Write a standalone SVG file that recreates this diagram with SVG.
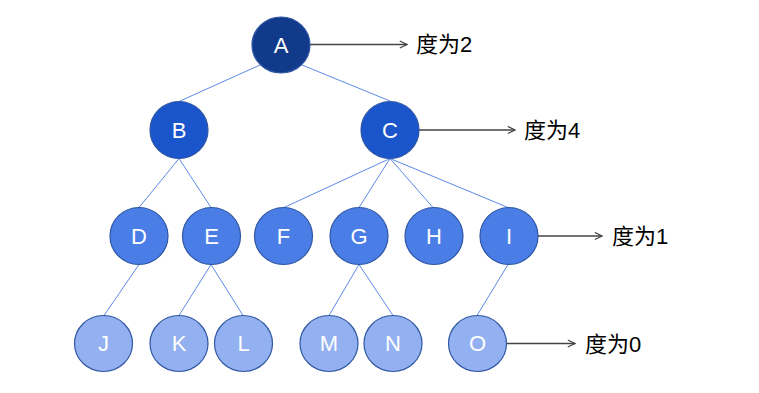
<svg xmlns="http://www.w3.org/2000/svg" width="759" height="393" viewBox="0 0 759 393">
<style>
.n ellipse{stroke:#2f56a3;stroke-width:1.2}
.n text{fill:#fff;font-family:"Liberation Sans",Arial,sans-serif;font-size:22px;text-anchor:middle;dominant-baseline:central}
.l1{fill:#123a8a}.l2{fill:#1b55cc}.l3{fill:#4a7de6}.l4{fill:#93b1f1}
.e line{stroke:#5b8ae8;stroke-width:1}
.a line{stroke:#444;stroke-width:1.3;marker-end:url(#ar)}
.lab{font-family:"Liberation Sans","Noto Sans CJK SC",sans-serif;font-size:22px;fill:#000}
</style>
<defs>
<marker id="ar" viewBox="0 0 10 10" refX="9" refY="5" markerWidth="9" markerHeight="9" markerUnits="userSpaceOnUse" orient="auto">
<path d="M1,1 L9,5 L1,9" fill="none" stroke="#444" stroke-width="1.3"/>
</marker>
</defs>
<rect width="759" height="393" fill="#fff"/>
<g id="connectors" class="e">
<line x1="260.5" y1="64.8" x2="180" y2="101"/>
<line x1="301.5" y1="64.8" x2="390" y2="101"/>
<line x1="179" y1="158.5" x2="139" y2="207.5"/>
<line x1="179" y1="158.5" x2="211" y2="207.5"/>
<line x1="390" y1="158.5" x2="284" y2="207.5"/>
<line x1="390" y1="158.5" x2="359" y2="207.5"/>
<line x1="390" y1="158.5" x2="433" y2="207.5"/>
<line x1="390" y1="158.5" x2="508" y2="207.5"/>
<line x1="139" y1="264.5" x2="104" y2="315.5"/>
<line x1="211" y1="264.5" x2="179" y2="315.5"/>
<line x1="211" y1="264.5" x2="243" y2="315.5"/>
<line x1="359" y1="264.5" x2="329" y2="315.5"/>
<line x1="359" y1="264.5" x2="393" y2="315.5"/>
<line x1="508" y1="264.5" x2="477" y2="315.5"/>
</g>
<g id="arrows" class="a">
<line x1="310" y1="44.5" x2="407" y2="44.5"/>
<line x1="419" y1="130" x2="515" y2="130"/>
<line x1="537.5" y1="236" x2="602" y2="236"/>
<line x1="506.5" y1="343.5" x2="575" y2="343.5"/>
</g>
<g id="A" class="n"><ellipse class="l1" cx="281" cy="45" rx="29" ry="28"/><text x="281" y="45">A</text></g>
<g id="B" class="n"><ellipse class="l2" cx="179" cy="130" rx="29" ry="28.5"/><text x="179" y="130">B</text></g>
<g id="C" class="n"><ellipse class="l2" cx="390" cy="130" rx="29" ry="28.5"/><text x="390" y="130">C</text></g>
<g id="D" class="n"><ellipse class="l3" cx="139" cy="236" rx="29" ry="28.5"/><text x="139" y="236">D</text></g>
<g id="E" class="n"><ellipse class="l3" cx="211.5" cy="236" rx="29" ry="28.5"/><text x="211.5" y="236">E</text></g>
<g id="F" class="n"><ellipse class="l3" cx="283.5" cy="236" rx="29" ry="28.5"/><text x="283.5" y="236">F</text></g>
<g id="G" class="n"><ellipse class="l3" cx="359" cy="236" rx="29" ry="28.5"/><text x="359" y="236">G</text></g>
<g id="H" class="n"><ellipse class="l3" cx="434" cy="236" rx="29" ry="28.5"/><text x="434" y="236">H</text></g>
<g id="I" class="n"><ellipse class="l3" cx="509" cy="236" rx="29" ry="28.5"/><text x="509" y="236">I</text></g>
<g id="J" class="n"><ellipse class="l4" cx="103.5" cy="343.5" rx="29" ry="28"/><text x="103.5" y="343.5">J</text></g>
<g id="K" class="n"><ellipse class="l4" cx="179" cy="343.5" rx="29" ry="28"/><text x="179" y="343.5">K</text></g>
<g id="L" class="n"><ellipse class="l4" cx="243.5" cy="343.5" rx="29" ry="28"/><text x="243.5" y="343.5">L</text></g>
<g id="M" class="n"><ellipse class="l4" cx="329" cy="343.5" rx="29" ry="28"/><text x="329" y="343.5">M</text></g>
<g id="N" class="n"><ellipse class="l4" cx="393" cy="343.5" rx="29" ry="28"/><text x="393" y="343.5">N</text></g>
<g id="O" class="n"><ellipse class="l4" cx="477.5" cy="343.5" rx="29" ry="28"/><text x="477.5" y="343.5">O</text></g>
<g id="labels">
<text class="lab" x="416" y="52">度为2</text>
<text class="lab" x="524" y="138">度为4</text>
<text class="lab" x="612" y="244">度为1</text>
<text class="lab" x="585" y="352">度为0</text>
</g>
</svg>
